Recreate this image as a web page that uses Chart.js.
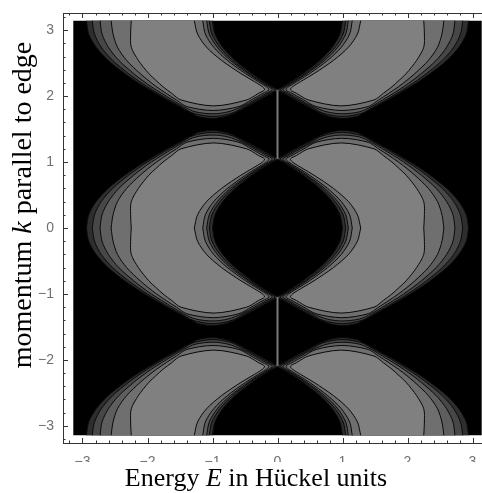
<!DOCTYPE html>
<html>
<head>
<meta charset="utf-8">
<script src="https://cdn.jsdelivr.net/npm/chart.js@4.4.1/dist/chart.umd.min.js"></script>
<style>
  html, body { margin: 0; padding: 0; background: #fff; overflow: hidden; }
  #contenitore { width: 500px; height: 493px; }
</style>
</head>
<body>
<div id="contenitore"><canvas id="grafico"></canvas></div>
<script>
// meta lobo di banda (k >= 0): dal bordo interno a k=0, giro della punta, ritorno sul bordo esterno
// un livello per curva di livello, dal piu' esterno (scuro) al piu' interno (chiaro)
var livello1 = [[1.0,0],[0.96,0.2],[0.842,0.4],[0.651,0.6],[0.393,0.8],[0.243,0.9],[0.081,1.0],[0.0,1.047],[0.093,1.1],[0.275,1.2],[0.465,1.3],[0.66,1.4],[0.8,1.45],[0.99,1.48],[1.22,1.45],[1.32,1.4],[1.51,1.3],[1.70,1.2],[1.875,1.1],[2.045,1.0],[2.206,0.9],[2.35,0.8],[2.606,0.6],[2.79,0.4],[2.905,0.2],[2.94,0]];
var livello2 = [[1.05,0],[1.01,0.2],[0.887,0.4],[0.691,0.6],[0.428,0.8],[0.273,0.9],[0.111,1.0],[0.04,1.047],[0.133,1.1],[0.315,1.2],[0.505,1.3],[0.70,1.4],[0.99,1.45],[1.30,1.4],[1.485,1.3],[1.665,1.2],[1.837,1.1],[2.001,1.0],[2.153,0.9],[2.293,0.8],[2.536,0.6],[2.712,0.4],[2.815,0.2],[2.85,0]];
var livello3 = [[1.09,0],[1.05,0.2],[0.927,0.4],[0.726,0.6],[0.453,0.8],[0.298,0.9],[0.136,1.0],[0.08,1.047],[0.173,1.1],[0.355,1.2],[0.545,1.3],[0.76,1.38],[0.99,1.41],[1.26,1.38],[1.445,1.3],[1.615,1.2],[1.782,1.1],[1.941,1.0],[2.083,0.9],[2.213,0.8],[2.441,0.6],[2.602,0.4],[2.70,0.2],[2.73,0]];
var livello4 = [[1.15,0],[1.11,0.2],[0.982,0.4],[0.771,0.6],[0.493,0.8],[0.333,0.9],[0.171,1.0],[0.13,1.047],[0.223,1.1],[0.405,1.2],[0.595,1.3],[0.99,1.36],[1.395,1.3],[1.555,1.2],[1.712,1.1],[1.861,1.0],[1.993,0.9],[2.113,0.8],[2.321,0.6],[2.462,0.4],[2.53,0.2],[2.56,0]];
var livello5 = [[1.28,0],[1.23,0.2],[1.092,0.4],[0.861,0.6],[0.563,0.8],[0.393,0.9],[0.231,1.0],[0.2,1.047],[0.293,1.1],[0.475,1.2],[0.98,1.29],[1.485,1.2],[1.627,1.1],[1.761,1.0],[1.873,0.9],[1.98,0.8],[2.14,0.6],[2.25,0.4],[2.26,0.2],[2.25,0]];

// stati di bordo a E = 0, tra i due punti di contatto
var statiBordo = [[1.047, 2.094], [-1.047, -2.094]];

var ticksE = [-3, -2, -1, 0, 1, 2, 3];
var ticksK = [-3, -2, -1, 0, 1, 2, 3];
var dominio = [-Math.PI, Math.PI];

var livelli = [livello1, livello2, livello3, livello4, livello5];
var grigi = ["#2e2e2e", "#474747", "#5e5e5e", "#6f6f6f", "#808080"];

// costruisce un lobo: centro 0 = lobo intero, centro +-pi = meta' che sta nel grafico
function puntiLobo(meta, segno, centro) {
  var punti = [];
  if (centro === 0) {
    meta.forEach(function(p) { punti.push({x: segno * p[0], y: p[1]}); });
    meta.slice().reverse().forEach(function(p) { punti.push({x: segno * p[0], y: -p[1]}); });
  } else {
    var verso = centro > 0 ? -1 : 1;
    meta.forEach(function(p) { punti.push({x: segno * p[0], y: centro + verso * p[1]}); });
  }
  return punti;
}

var datasets = [];

// sfondo nero
datasets.push({
  data: [{x: dominio[0], y: dominio[0]}, {x: dominio[1], y: dominio[0]}, {x: dominio[1], y: dominio[1]}, {x: dominio[0], y: dominio[1]}],
  showLine: true, fill: "shape", backgroundColor: "#000", borderWidth: 0, pointRadius: 0, order: 100
});

livelli.forEach(function(meta, i) {
  [0, Math.PI, -Math.PI].forEach(function(centro) {
    [1, -1].forEach(function(segno) {
      datasets.push({
        data: puntiLobo(meta, segno, centro),
        showLine: true,
        fill: "shape",
        backgroundColor: grigi[i],
        borderColor: "#0a0a0a",
        borderWidth: 1,
        pointRadius: 0,
        tension: 0.3,
        order: 50 - i * 5
      });
    });
  });
});

statiBordo.forEach(function(s) {
  datasets.push({
    data: [{x: 0, y: s[0]}, {x: 0, y: s[1]}],
    showLine: true, fill: false, borderColor: "#7a7a7a", borderWidth: 2, pointRadius: 0, order: 1
  });
});

// cornice con tacche verso l'interno e titoli degli assi
var cornice = {
  id: "cornice",
  afterDraw: function(chart) {
    var ctx = chart.ctx;
    var a = chart.chartArea;
    var sx = chart.scales.x, sy = chart.scales.y;
    ctx.save();
    ctx.strokeStyle = "#333";
    ctx.lineWidth = 1;
    ctx.strokeRect(Math.round(a.left) + 0.5, Math.round(a.top) + 0.5, Math.round(a.right - a.left), Math.round(a.bottom - a.top));
    ctx.beginPath();
    for (var v = -3.2; v <= 3.21; v += 0.2) {
      var lung = Math.abs(v - Math.round(v)) < 0.01 ? 5 : 2.5;
      var px = Math.round(sx.getPixelForValue(v)) + 0.5;
      ctx.moveTo(px, a.bottom); ctx.lineTo(px, a.bottom - lung);
      ctx.moveTo(px, a.top); ctx.lineTo(px, a.top + lung);
      var py = Math.round(sy.getPixelForValue(v)) + 0.5;
      ctx.moveTo(a.left, py); ctx.lineTo(a.left + lung, py);
      ctx.moveTo(a.right, py); ctx.lineTo(a.right - lung, py);
    }
    ctx.stroke();

    // le etichette in basso restano tagliate dalla fascia del titolo
    ctx.fillStyle = "#fff";
    ctx.fillRect(0, 462, chart.width, chart.height - 462);

    ctx.fillStyle = "#000";
    scriviPezzi(ctx, [["Energy ", "26px 'Liberation Serif'"], ["E", "italic 26px 'Liberation Serif'"], [" in Hückel units", "26px 'Liberation Serif'"]], 256, 486, 0);
    scriviPezzi(ctx, [["momentum ", "28px 'Liberation Serif'"], ["k", "italic 28px 'Liberation Serif'"], [" parallel to edge", "28px 'Liberation Serif'"]], 31, 205, -Math.PI / 2);
    ctx.restore();
  }
};

function scriviPezzi(ctx, pezzi, x, y, angolo) {
  ctx.save();
  ctx.translate(x, y);
  ctx.rotate(angolo);
  ctx.textAlign = "left";
  ctx.textBaseline = "alphabetic";
  var totale = 0;
  pezzi.forEach(function(p) { ctx.font = p[1]; totale += ctx.measureText(p[0]).width; });
  var pos = -totale / 2;
  pezzi.forEach(function(p) {
    ctx.font = p[1];
    ctx.fillText(p[0], pos, 0);
    pos += ctx.measureText(p[0]).width;
  });
  ctx.restore();
}

function etichetta(v) {
  return v < 0 ? "\u2212" + (-v) : String(v);
}

new Chart(document.getElementById("grafico"), {
  type: "scatter",
  data: { datasets: datasets },
  plugins: [cornice],
  options: {
    responsive: true,
    maintainAspectRatio: false,
    animation: false,
    layout: { padding: { top: 13, right: 8, left: 0, bottom: 0 } },
    plugins: { legend: { display: false }, tooltip: { enabled: false } },
    scales: {
      x: {
        type: "linear", position: "bottom", min: -3.3, max: 3.3,
        grid: { display: false }, border: { display: false },
        afterBuildTicks: function(s) { s.ticks = ticksE.map(function(v) { return {value: v}; }); },
        afterFit: function(s) { s.height = 50; },
        ticks: { callback: etichetta, color: "#707070", padding: 3, maxRotation: 0, font: { family: "Liberation Sans", size: 14 } }
      },
      y: {
        type: "linear", position: "left", min: -3.26, max: 3.26,
        grid: { display: false }, border: { display: false },
        afterBuildTicks: function(s) { s.ticks = ticksK.map(function(v) { return {value: v}; }); },
        afterFit: function(s) { s.width = 63; },
        ticks: { callback: etichetta, color: "#707070", padding: 1, font: { family: "Liberation Sans", size: 14 } }
      }
    }
  }
});
</script>
</body>
</html>
